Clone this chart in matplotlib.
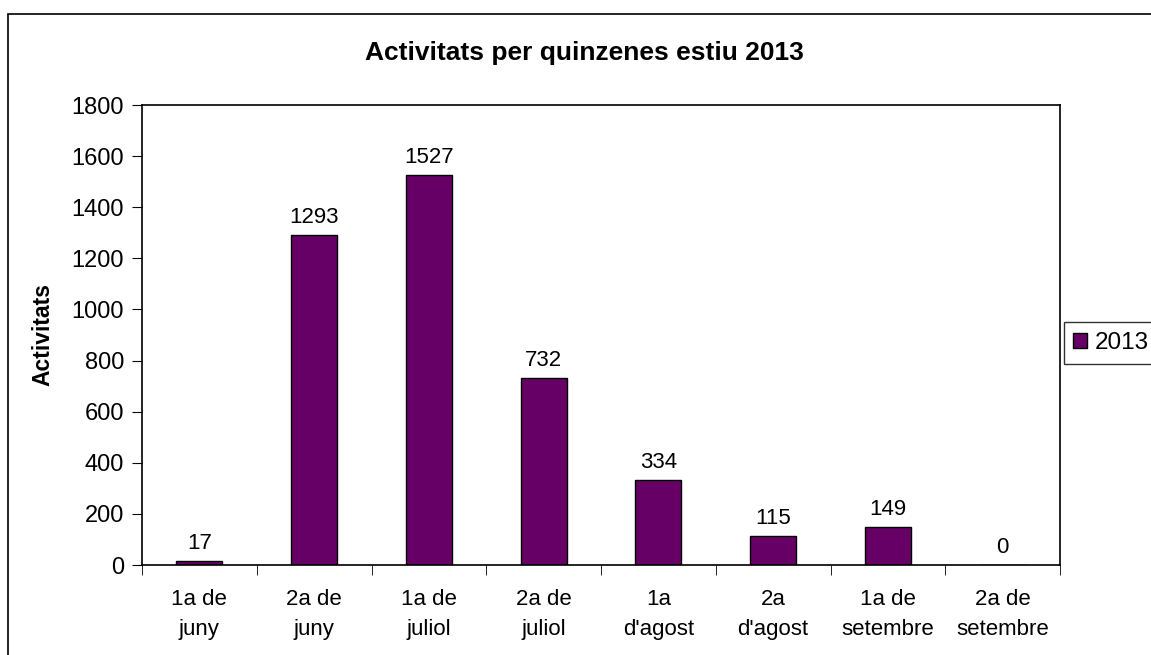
import numpy as np
import matplotlib.pyplot as plt
from matplotlib.patches import Rectangle

plt.rcParams['font.family'] = ['Liberation Sans', 'DejaVu Sans']

categories = ["1a de\njuny", "2a de\njuny", "1a de\njuliol", "2a de\njuliol",
              "1a\nd'agost", "2a\nd'agost", "1a de\nsetembre", "2a de\nsetembre"]
values = [17, 1293, 1527, 732, 334, 115, 149, 0]
series_name = "2013"

fig = plt.figure(figsize=(11.51, 6.55), dpi=100)
ax = fig.add_axes([142 / 1151, 1 - 565 / 655, 918 / 1151, 460 / 655])

# outer chart frame
fig.patches.append(Rectangle((8 / 1151, -0.05), 1.2, 1 - 14 / 655 + 0.05,
                             transform=fig.transFigure, fill=False,
                             edgecolor='black', linewidth=1.2))

x = np.arange(len(values))
bars = ax.bar(x, values, width=0.4, color='#660066', edgecolor='black',
              linewidth=1, label=series_name)

for xi, v in zip(x, values):
    ax.annotate(str(v), (xi, v), xytext=(0, 5), textcoords='offset points',
                ha='center', va='bottom', fontsize=16)

ax.set_xlim(-0.5, len(values) - 0.5)
ax.set_ylim(0, 1800)
ax.set_yticks(np.arange(0, 1801, 200))
ax.set_xticks(x)
ax.set_xticklabels(categories, fontsize=16, linespacing=1.6)
ax.set_xticks(np.arange(-0.5, len(values)), minor=True)
ax.tick_params(axis='x', which='major', length=0, pad=17)
ax.tick_params(axis='x', which='minor', length=7, direction='out')
ax.tick_params(axis='y', labelsize=17, length=7, direction='out', pad=6)

for s in ax.spines.values():
    s.set_linewidth(1.2)

ax.set_ylabel('Activitats', fontsize=16.5, fontweight='bold', labelpad=12)
fig.text(584 / 1151, 1 - 53 / 655, 'Activitats per quinzenes estiu 2013',
         ha='center', va='center', fontsize=19, fontweight='bold')

leg = ax.legend(loc='center left', bbox_to_anchor=(1.0, 0.483), fontsize=17.5,
                frameon=True, fancybox=False, handlelength=0.55, handleheight=0.55,
                handletextpad=0.35, borderpad=0.4, borderaxespad=0.15)
leg.get_frame().set_edgecolor('black')
leg.get_frame().set_linewidth(1)

fig.savefig('out.png', dpi=100)
